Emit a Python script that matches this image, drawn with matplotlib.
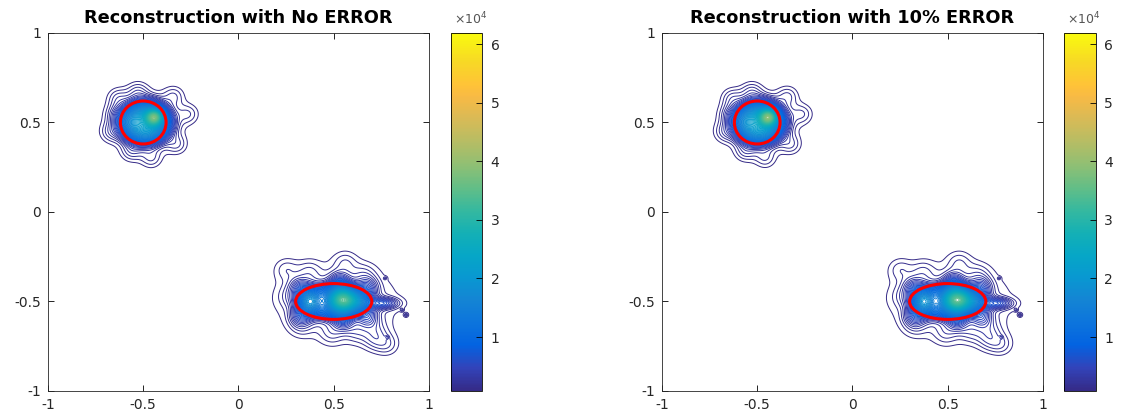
import numpy as np
import matplotlib
matplotlib.use("Agg")
import matplotlib.pyplot as plt
from matplotlib.colors import LinearSegmentedColormap, Normalize
from matplotlib.patches import Ellipse
from matplotlib.cm import ScalarMappable

plt.rcParams['font.family'] = ['DejaVu Sans']
plt.rcParams['axes.unicode_minus'] = False

titles = ["Reconstruction with No ERROR", "Reconstruction with 10% ERROR"]

# reconstructed sources: centre, amplitude, widths and edge sharpness of each bump
# upper-left source: base, plateau, core, peak, star lobes
# lower-right source: base, plateau, peaks, bumps, halo lobes, finger, tiny specks
blob_x = [-0.49, -0.49, -0.49, -0.44,
          -0.632, -0.529, -0.340, -0.264, -0.325, -0.458, -0.562, -0.670, -0.643,
          0.52, 0.50, 0.37, 0.55, 0.55, 0.65,
          0.53, 0.32, 0.32, 0.55, 0.68, 0.68,
          0.25, 0.37, 0.56, 0.66, 0.72, 0.78, 0.62, 0.49, 0.33, 0.27, 0.71,
          0.76, 0.858, 0.88, 0.77, 0.78]
blob_y = [0.50, 0.50, 0.50, 0.53,
          0.639, 0.674, 0.649, 0.548, 0.377, 0.299, 0.336, 0.447, 0.548,
          -0.50, -0.50, -0.50, -0.49, -0.50, -0.50,
          -0.39, -0.42, -0.58, -0.61, -0.42, -0.59,
          -0.32, -0.33, -0.28, -0.35, -0.66, -0.74, -0.67, -0.68, -0.63, -0.47, -0.72,
          -0.51, -0.547, -0.575, -0.37, -0.70]
blob_amp = [2000, 11000, 10000, 18000,
            1600, 1600, 1600, 1600, 1600, 1600, 1600, 1600, 1600,
            2200, 6000, 12000, 20000, 6000, 5000,
            3500, 3000, 3000, 3000, 3000, 3000,
            1300, 1200, 1300, 1200, 1200, 1500, 1200, 1200, 1200, 1200, 1200,
            5000, 1500, 1500, 1200, 1200]
blob_sx = [0.12, 0.115, 0.075, 0.03,
           0.04, 0.04, 0.04, 0.04, 0.04, 0.04, 0.04, 0.04, 0.04,
           0.22, 0.15, 0.04, 0.05, 0.08, 0.04,
           0.035, 0.035, 0.035, 0.035, 0.035, 0.035,
           0.045, 0.045, 0.045, 0.045, 0.045, 0.045, 0.045, 0.045, 0.045, 0.045, 0.045,
           0.05, 0.006, 0.008, 0.006, 0.006]
blob_sy = [0.10, 0.10, 0.07, 0.03,
           0.04, 0.04, 0.04, 0.04, 0.04, 0.04, 0.04, 0.04, 0.04,
           0.14, 0.08, 0.05, 0.045, 0.06, 0.04,
           0.035, 0.035, 0.035, 0.035, 0.035, 0.035,
           0.045, 0.045, 0.045, 0.045, 0.045, 0.045, 0.045, 0.045, 0.045, 0.045, 0.045,
           0.02, 0.006, 0.008, 0.006, 0.006]
blob_p = [2, 4, 2, 2,
          2, 2, 2, 2, 2, 2, 2, 2, 2,
          2, 4, 2, 2, 2, 2,
          2, 2, 2, 2, 2, 2,
          2, 2, 2, 2, 2, 2, 2, 2, 2, 2, 2,
          2, 2, 2, 2, 2]
# same sources, reconstructed from data with 10% error
blob_amp_err = [2000, 11200, 10300, 18800,
                1600, 1600, 1650, 1600, 1600, 1550, 1600, 1600, 1600,
                2200, 6100, 12300, 20600, 6000, 5100,
                3500, 3000, 3000, 3000, 3000, 3000,
                1300, 1200, 1300, 1200, 1200, 1500, 1200, 1200, 1200, 1200, 1200,
                5000, 1500, 1500, 1200, 1200]

# true targets (red outlines): centre, width, height
target_x = [-0.5, 0.5]
target_y = [0.5, -0.5]
target_w = [0.24, 0.40]
target_h = [0.24, 0.20]

cbar_ticks = [10000, 20000, 30000, 40000, 50000, 60000]
cbar_labels = ["1", "2", "3", "4", "5", "6"]
c_min, c_max = 800, 61900
axis_ticks = [-1, -0.5, 0, 0.5, 1]
axis_labels = ["-1", "-0.5", "0", "0.5", "1"]

# parula
parula_pts = [(0.2081, 0.1663, 0.5292), (0.1959, 0.2645, 0.7279), (0.0117, 0.3875, 0.8820),
              (0.0498, 0.4586, 0.8641), (0.0793, 0.5200, 0.8312), (0.0343, 0.5966, 0.8199),
              (0.0228, 0.6535, 0.7768), (0.0843, 0.6928, 0.7062), (0.2178, 0.7250, 0.6193),
              (0.3953, 0.7459, 0.5244), (0.5709, 0.7485, 0.4494), (0.7184, 0.7411, 0.3905),
              (0.8507, 0.7299, 0.3360), (0.9739, 0.7314, 0.2666), (0.9990, 0.7653, 0.2164),
              (0.9697, 0.8481, 0.1475), (0.9763, 0.9831, 0.0538)]
parula_pos = [0, 4, 8, 12, 16, 20, 24, 28, 32, 36, 40, 44, 48, 52, 54, 58, 63]
parula = LinearSegmentedColormap.from_list(
    "parula", [(p / 63, c) for p, c in zip(parula_pos, parula_pts)])


def field(X, Y, amps):
    Z = np.zeros_like(X)
    for x0, y0, a, sx, sy, p in zip(blob_x, blob_y, amps, blob_sx, blob_sy, blob_p):
        q = ((X - x0) / sx) ** 2 + ((Y - y0) / sy) ** 2
        Z += a * np.exp(-0.5 * q ** (p / 2))
    return Z


g = np.linspace(-1, 1, 700)
X, Y = np.meshgrid(g, g)
levels = np.linspace(c_min, c_max, 120)

fig = plt.figure(figsize=(11.37, 4.16), dpi=100)
ax_pos = [[0.0422, 0.0601, 0.3351, 0.8606], [0.5822, 0.0601, 0.3351, 0.8606]]
cax_pos = [[0.3967, 0.0601, 0.0275, 0.8606], [0.9358, 0.0601, 0.0280, 0.8606]]

for i, amps in enumerate([blob_amp, blob_amp_err]):
    norm = Normalize(vmin=c_min, vmax=c_max)
    ax = fig.add_axes(ax_pos[i])
    Z = field(X, Y, amps)
    ax.contour(X, Y, Z, levels=levels, cmap=parula, norm=norm, linewidths=0.7)
    for tx, ty, tw, th in zip(target_x, target_y, target_w, target_h):
        ax.add_patch(Ellipse((tx, ty), tw, th, fill=False, color='red', lw=2.2, zorder=5))
    ax.set_xlim(-1, 1)
    ax.set_ylim(-1, 1)
    ax.set_xticks(axis_ticks)
    ax.set_xticklabels(axis_labels)
    ax.set_yticks(axis_ticks)
    ax.set_yticklabels(axis_labels)
    ax.tick_params(direction='in', top=True, right=True, length=4, width=0.6,
                   labelsize=10, labelcolor='#262626', pad=5)
    for s in ax.spines.values():
        s.set_linewidth(0.6)
        s.set_color('#262626')
    ax.set_title(titles[i], fontsize=12.8, fontweight='bold', pad=7)

    cax = fig.add_axes(cax_pos[i])
    fig.colorbar(ScalarMappable(norm=norm, cmap=parula), cax=cax)
    cax.set_yticks(cbar_ticks)
    cax.set_yticklabels(cbar_labels)
    for s in cax.spines.values():
        s.set_linewidth(0.6)
    cax.tick_params(direction='in', length=4, width=0.6, labelsize=10,
                    labelcolor='#262626', pad=6)
    cax.text(0.1, 1.015, r'$\times10^4$', transform=cax.transAxes, fontsize=9,
             color='#555555', ha='left', va='bottom')

fig.savefig("out.png", dpi=100)
